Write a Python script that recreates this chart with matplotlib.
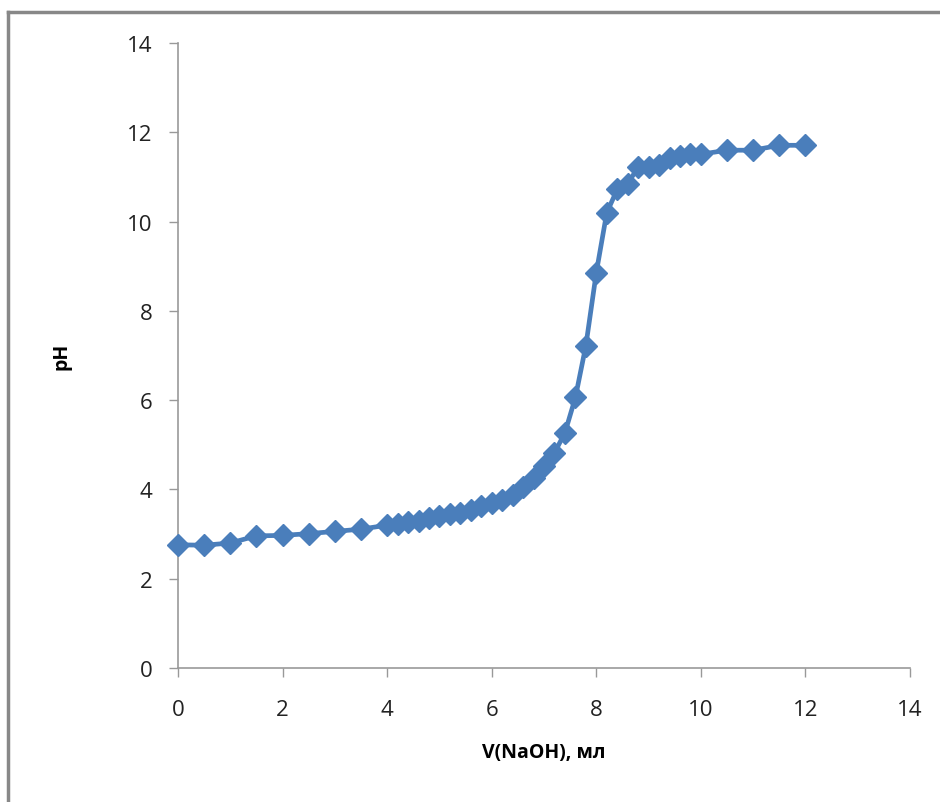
import numpy as np
import matplotlib.pyplot as plt
from matplotlib.lines import Line2D

# titration data
v_naoh = [0, 0.5, 1, 1.5, 2, 2.5, 3, 3.5,
          4.0, 4.2, 4.4, 4.6, 4.8, 5.0, 5.2, 5.4, 5.6, 5.8,
          6.0, 6.2, 6.4, 6.6, 6.8, 7.0, 7.2, 7.4, 7.6, 7.8,
          8.0, 8.2, 8.4, 8.6, 8.8, 9.0, 9.2, 9.4, 9.6, 9.8,
          10.0, 10.5, 11.0, 11.5, 12.0]
ph = [2.76, 2.75, 2.8, 2.96, 2.97, 3.01, 3.06, 3.11,
      3.2, 3.23, 3.27, 3.3, 3.35, 3.4, 3.45, 3.48, 3.55, 3.62,
      3.7, 3.76, 3.88, 4.05, 4.25, 4.52, 4.82, 5.27, 6.06, 7.22,
      8.86, 10.2, 10.72, 10.85, 11.22, 11.22, 11.26, 11.42, 11.48, 11.51,
      11.51, 11.6, 11.6, 11.71, 11.71]

xticks = [0, 2, 4, 6, 8, 10, 12, 14]
yticks = [0, 2, 4, 6, 8, 10, 12, 14]

plt.rcParams['font.family'] = ['Open Sans', 'DejaVu Sans']

fig = plt.figure(figsize=(9.4, 8.03), dpi=100)
ax = fig.add_axes([0.1894, 0.1669, 0.7787, 0.7782])

blue = '#4a7ebb'
ax.plot(v_naoh, ph, color=blue, lw=3.4, marker='D', ms=11,
        markerfacecolor=blue, markeredgecolor=blue, solid_joinstyle='round',
        clip_on=False, zorder=3)

ax.set_xlim(0, 14)
ax.set_ylim(0, 14)
ax.set_xticks(xticks)
ax.set_yticks(yticks)
ax.tick_params(labelsize=16, labelcolor='#222222', color='#999999',
               length=6.3, width=1)
ax.tick_params(axis='x', pad=16)
ax.tick_params(axis='y', pad=12)

for s in ['top', 'right']:
    ax.spines[s].set_visible(False)
for s in ['left', 'bottom']:
    ax.spines[s].set_color('#999999')
    ax.spines[s].set_linewidth(1.2)

ax.set_xlabel('V(NaOH), мл', fontsize=14, fontweight='bold')
ax.set_ylabel('pH', fontsize=14, fontweight='bold')
ax.xaxis.set_label_coords(0.5, -0.118)
ax.yaxis.set_label_coords(-0.145, 0.5)

# frame of the chart area (only top and left visible in the crop)
fig.add_artist(Line2D([8 / 940, 1], [1 - 13 / 803] * 2, color='#888888', lw=2.5,
                      transform=fig.transFigure))
fig.add_artist(Line2D([8 / 940] * 2, [0, 1 - 13 / 803], color='#888888', lw=2.5,
                      transform=fig.transFigure))

fig.savefig('out.png', dpi=100)
